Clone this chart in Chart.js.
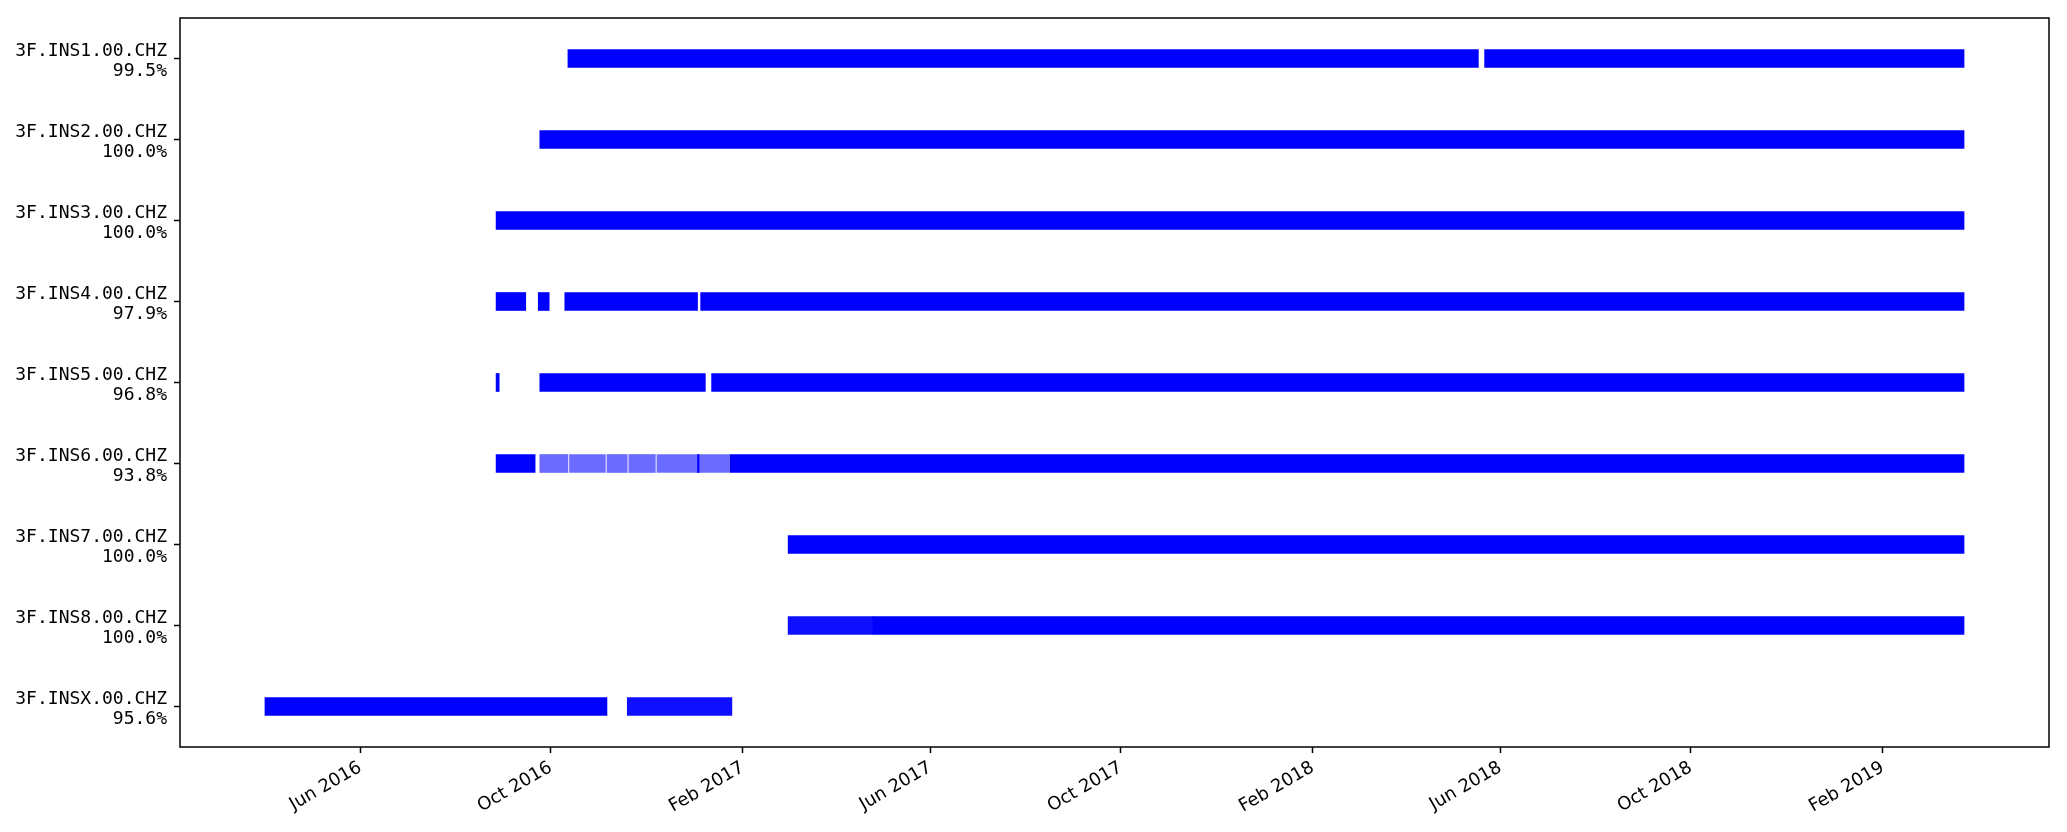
<!DOCTYPE html>
<html lang="en">
<head>
  <meta charset="UTF-8" />
  <title>Data availability</title>
  <script src="https://cdn.jsdelivr.net/npm/chart.js"></script>
  <style>
    html, body { margin: 0; padding: 0; background: #fff; }
    #wrap { width: 2067px; height: 832px; position: relative; }
  </style>
</head>
<body>
  <div id="wrap"><canvas id="availChart"></canvas></div>

  <script>
    // station channels and their overall coverage
    const stations = ['3F.INS1.00.CHZ', '3F.INS2.00.CHZ', '3F.INS3.00.CHZ', '3F.INS4.00.CHZ', '3F.INS5.00.CHZ',
                      '3F.INS6.00.CHZ', '3F.INS7.00.CHZ', '3F.INS8.00.CHZ', '3F.INSX.00.CHZ'];
    const coverage = ['99.5%', '100.0%', '100.0%', '97.9%', '96.8%', '93.8%', '100.0%', '100.0%', '95.6%'];

    // continuous data segments [start, end] per channel
    const ins1 = [['2016-10-12', '2018-05-18'], ['2018-05-22', '2019-03-25']];
    const ins2 = [['2016-09-24', '2019-03-25']];
    const ins3 = [['2016-08-27', '2019-03-25']];
    const ins4 = [['2016-08-27', '2016-09-15'], ['2016-09-23', '2016-09-30'], ['2016-10-10', '2017-01-03'], ['2017-01-05', '2019-03-25']];
    const ins5 = [['2016-08-27', '2016-08-29'], ['2016-09-24', '2017-01-08'], ['2017-01-12', '2019-03-25']];
    const ins6 = [['2016-08-27', '2016-09-21'], ['2017-01-03', '2017-01-04'], ['2017-01-24', '2019-03-25']];
    const ins7 = [['2017-03-02', '2019-03-25']];
    const ins8 = [['2017-04-25', '2019-03-25']];
    const insX = [['2016-04-01', '2016-11-06']];

    // stretches with many tiny gaps (mostly complete)
    const ins8Dense = [['2017-03-02', '2017-04-25']];
    const insXDense = [['2016-11-19', '2017-01-25']];

    // INS6: stretch with many short gaps (sparse data)
    const ins6Sparse = [['2016-09-24', '2016-10-12'], ['2016-10-13', '2016-11-05'], ['2016-11-06', '2016-11-19'],
                        ['2016-11-20', '2016-12-07'], ['2016-12-08', '2017-01-24']];

    const xTickDates = ['2016-06-01', '2016-10-01', '2017-02-01', '2017-06-01', '2017-10-01',
                        '2018-02-01', '2018-06-01', '2018-10-01', '2019-02-01'];
    const xTickLabels = ['Jun 2016', 'Oct 2016', 'Feb 2017', 'Jun 2017', 'Oct 2017',
                         'Feb 2018', 'Jun 2018', 'Oct 2018', 'Feb 2019'];

    const ts = s => { const [y, m, d] = s.split('-').map(Number); return Date.UTC(y, m - 1, d); };
    const toBars = (segs, i) => segs.map(s => ({ y: stations[i], x: [ts(s[0]), ts(s[1])] }));

    const allSegments = [ins1, ins2, ins3, ins4, ins5, ins6, ins7, ins8, insX];
    const solidData = allSegments.flatMap((segs, i) => toBars(segs, i));
    const denseData = toBars(ins8Dense, 7).concat(toBars(insXDense, 8));
    const sparseData = toBars(ins6Sparse, 5);

    // matplotlib-like 5% margins on the time axis
    const allTimes = solidData.concat(denseData, sparseData).flatMap(d => d.x);
    const tMin = Math.min(...allTimes), tMax = Math.max(...allTimes);
    const margin = (tMax - tMin) * 0.05;

    const frame = {
      id: 'frame',
      afterDraw(chart) {
        const { ctx, chartArea: a } = chart;
        ctx.save();
        ctx.strokeStyle = '#000';
        ctx.lineWidth = 1.5;
        ctx.strokeRect(a.left, a.top, a.right - a.left, a.bottom - a.top);
        ctx.restore();
      }
    };

    new Chart(document.getElementById('availChart'), {
      type: 'bar',
      data: {
        labels: stations,
        datasets: [
          { data: solidData, backgroundColor: '#0000ff', grouped: false, barThickness: 18 },
          { data: denseData, backgroundColor: 'rgba(0, 0, 255, 0.94)', grouped: false, barThickness: 18 },
          { data: sparseData, backgroundColor: 'rgba(0, 0, 255, 0.58)', grouped: false, barThickness: 18 }
        ]
      },
      options: {
        indexAxis: 'y',
        responsive: true,
        maintainAspectRatio: false,
        animation: false,
        layout: { padding: { top: 18, right: 18, left: 0, bottom: 0 } },
        plugins: { legend: { display: false }, tooltip: { enabled: false } },
        scales: {
          x: {
            type: 'linear',
            min: tMin - margin,
            max: tMax + margin,
            border: { display: false },
            grid: { drawOnChartArea: false, tickLength: 6, tickColor: '#000', tickWidth: 1.5 },
            afterBuildTicks: scale => { scale.ticks = xTickDates.map(d => ({ value: ts(d) })); },
            afterFit: scale => { scale.height = 85; scale.paddingLeft = 0; scale.paddingRight = 0; },
            ticks: {
              minRotation: 30,
              maxRotation: 30,
              padding: 4,
              color: '#000',
              font: { family: 'DejaVu Sans', size: 18 },
              callback: (v, i) => xTickLabels[i]
            }
          },
          y: {
            type: 'category',
            offset: true,
            border: { display: false },
            grid: { drawOnChartArea: false, offset: false, tickLength: 6, tickColor: '#000', tickWidth: 1.5 },
            afterFit: scale => { scale.width = 180; scale.paddingTop = 0; scale.paddingBottom = 0; },
            ticks: {
              padding: 7,
              labelOffset: 3,
              color: '#000',
              font: { family: 'DejaVu Sans Mono', size: 18, lineHeight: 1.13 },
              callback: (v, i) => [stations[i], coverage[i]]
            }
          }
        }
      },
      plugins: [frame]
    });
  </script>
</body>
</html>
